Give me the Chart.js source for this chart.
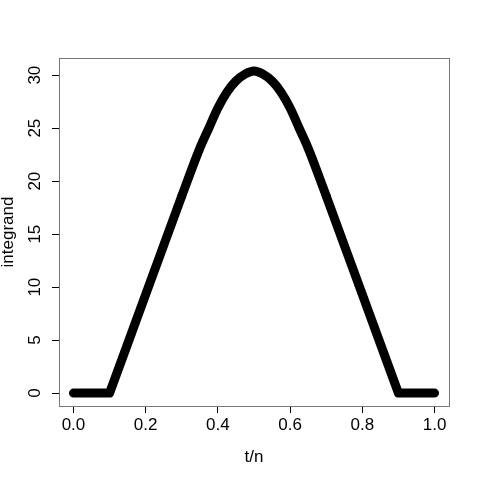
<!DOCTYPE html>
<html>
<head>
<meta charset="utf-8">
<script src="https://cdn.jsdelivr.net/npm/chart.js@4/dist/chart.umd.min.js"></script>
<style>
  html, body { margin: 0; padding: 0; background: #fff; }
  #wrap { width: 480px; height: 480px; }
</style>
</head>
<body>
<div id="wrap"><canvas id="chart" width="480" height="480"></canvas></div>
<script>
// values
const tn = [0, 0.05, 0.1, 0.15, 0.2, 0.25, 0.3, 0.35, 0.375, 0.4, 0.425, 0.45, 0.475, 0.5,
            0.525, 0.55, 0.575, 0.6, 0.625, 0.65, 0.7, 0.75, 0.8, 0.85, 0.9, 0.95, 1.0];
const integrand = [0, 0, 0, 4.65, 9.3, 13.95, 18.6, 23.1, 25.0, 26.9, 28.4, 29.45, 30.1, 30.4,
                   30.1, 29.45, 28.4, 26.9, 25.0, 23.1, 18.6, 13.95, 9.3, 4.65, 0, 0, 0];
const xTicks = [0, 0.2, 0.4, 0.6, 0.8, 1.0];
const yTicks = [0, 5, 10, 15, 20, 25, 30];

const font = "'Liberation Sans', Arial, sans-serif";

// straight flanks drawn with sharp corners, the rounded top with a smooth curve
const isPeak = t => t >= 0.3 && t <= 0.7;
const flankPts = tn.map((t, i) => ({ x: t, y: (t > 0.3 && t < 0.7) ? null : integrand[i] }));
const peakPts = tn.map((t, i) => ({ x: t, y: isPeak(t) ? integrand[i] : null }));

const lineStyle = {
  borderColor: '#000',
  borderWidth: 9,
  borderCapStyle: 'round',
  borderJoinStyle: 'round',
  pointRadius: 0,
  fill: false,
  spanGaps: false
};

// R style box round the plot region
const boxPlugin = {
  id: 'box',
  afterDraw(chart) {
    const { ctx, chartArea: a } = chart;
    ctx.save();
    ctx.strokeStyle = '#777';
    ctx.lineWidth = 1;
    ctx.strokeRect(Math.round(a.left) + 0.5, Math.round(a.top) + 0.5,
                   Math.round(a.right - a.left), Math.round(a.bottom - a.top));
    ctx.restore();
  }
};

// y tick labels are rotated like R's las = 0
const yLabelPlugin = {
  id: 'yLabels',
  afterDraw(chart) {
    const { ctx } = chart;
    const ys = chart.scales.y;
    ctx.save();
    ctx.fillStyle = '#000';
    ctx.font = '17px ' + font;
    ctx.textAlign = 'center';
    ctx.textBaseline = 'middle';
    ys.ticks.forEach(t => {
      const py = ys.getPixelForValue(t.value);
      ctx.save();
      ctx.translate(35, py);
      ctx.rotate(-Math.PI / 2);
      ctx.fillText(String(t.value), 0, 0);
      ctx.restore();
    });
    ctx.restore();
  }
};

new Chart(document.getElementById('chart'), {
  type: 'line',
  data: {
    datasets: [
      { ...lineStyle, data: flankPts, tension: 0 },
      { ...lineStyle, data: peakPts, cubicInterpolationMode: 'monotone' }
    ]
  },
  options: {
    responsive: false,
    animation: false,
    layout: { padding: { top: 58, right: 31, left: 0, bottom: 0 } },
    plugins: { legend: { display: false }, tooltip: { enabled: false } },
    scales: {
      x: {
        type: 'linear',
        min: -0.04,
        max: 1.04,
        afterBuildTicks: s => { s.ticks = xTicks.map(v => ({ value: v })); },
        afterFit: s => { s.height = 74; },
        grid: { drawOnChartArea: false, color: '#000', tickLength: 7 },
        border: { display: true, color: '#333' },
        ticks: {
          color: '#000',
          font: { family: font, size: 17 },
          padding: 2,
          maxRotation: 0,
          callback: v => v.toFixed(1)
        },
        title: {
          display: true,
          text: 't/n',
          color: '#000',
          font: { family: font, size: 17 },
          padding: { top: 0, bottom: 12 }
        }
      },
      y: {
        type: 'linear',
        min: -1.216,
        max: 31.62,
        afterBuildTicks: s => { s.ticks = yTicks.map(v => ({ value: v })); },
        afterFit: s => { s.width = 59; },
        grid: { drawOnChartArea: false, color: '#000', tickLength: 7 },
        border: { display: true, color: '#333' },
        ticks: { display: false },
        title: {
          display: true,
          text: 'integrand',
          color: '#000',
          font: { family: font, size: 17 },
          padding: { top: -2, bottom: 0 }
        }
      }
    }
  },
  plugins: [boxPlugin, yLabelPlugin]
});
</script>
</body>
</html>
